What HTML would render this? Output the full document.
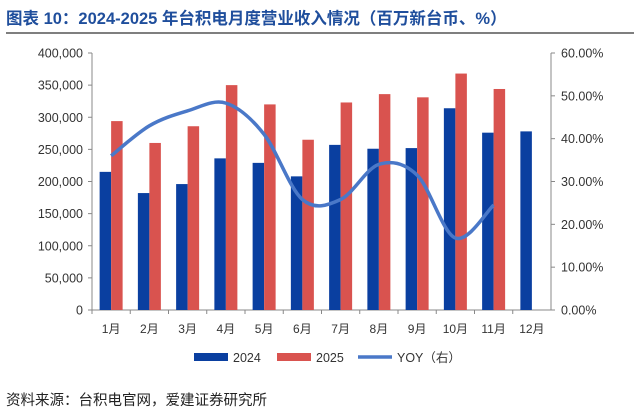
<!DOCTYPE html>
<html><head><meta charset="utf-8"><style>
body{margin:0;width:634px;height:416px;background:#fff;overflow:hidden;font-family:"Liberation Sans","Noto Sans CJK SC",sans-serif}
</style></head><body>
<svg width="634" height="416" style="position:absolute;left:0;top:0">
<text x="6" y="24" font-size="16.5" font-weight="bold" fill="#1f4e9c" font-family="Liberation Sans, Noto Sans CJK SC, sans-serif">图表 10：2024-2025 年台积电月度营业收入情况（百万新台币、%）</text>
<line x1="6" y1="33" x2="634" y2="33" stroke="#333" stroke-width="1.2"/>
<g id="g"></g>
<text x="6" y="405" font-size="14.5" fill="#222" font-family="Liberation Sans, Noto Sans CJK SC, sans-serif">资料来源：台积电官网，爱建证券研究所</text>
</svg>
<script>
const categories=["1月","2月","3月","4月","5月","6月","7月","8月","9月","10月","11月","12月"];
const rev2024=[215000,182000,196000,236000,229000,208000,257000,251000,252000,314000,276000,278000];
const rev2025=[294000,260000,286000,350000,320000,265000,323000,336000,331000,368000,344000,null];
const yoy=[36,43,46.5,48.3,41,25.8,25.8,34,31.5,16.8,24.5,null];
const leftTicks=[0,50000,100000,150000,200000,250000,300000,350000,400000];
const rightTicks=[0,10,20,30,40,50,60];
const NS="http://www.w3.org/2000/svg",g=document.getElementById('g');
const L=92,R=551,B=310,T=53;
const y=v=>B-(v/400000)*(B-T), y2=v=>B-(v/60)*(B-T);
const bw=(R-L)/categories.length, xc=i=>L+bw*(i+0.5);
function el(t,a,txt){const e=document.createElementNS(NS,t);for(const k in a)e.setAttribute(k,a[k]);if(txt!=null)e.textContent=txt;g.appendChild(e);return e;}
let e;
e=el('line',{x1:L,y1:T,x2:L,y2:B,stroke:'#888'});


e=el('line',{x1:R,y1:T,x2:R,y2:B,stroke:'#888'});


e=el('line',{x1:L,y1:B,x2:R,y2:B,stroke:'#888'});


leftTicks.forEach(v=>{
 el('line',{x1:L-4,y1:y(v),x2:L,y2:y(v),stroke:'#888'});
 e=el('text',{x:83,y:y(v)+4.5,'font-size':12.5,'text-anchor':'end',fill:'#333'},v.toLocaleString('en-US'));
 
 
});
rightTicks.forEach(v=>{
 el('line',{x1:R,y1:y2(v),x2:R+4,y2:y2(v),stroke:'#888'});
 e=el('text',{x:561,y:y2(v)+4.5,'font-size':12.5,fill:'#333'},v.toFixed(2)+'%');
 
 
});
categories.forEach((c,i)=>{
 el('line',{x1:L+bw*i,y1:B,x2:L+bw*i,y2:B+4,stroke:'#888'});
 e=el('text',{x:xc(i),y:333,'font-size':12,'text-anchor':'middle',fill:'#333'},c);
 
 
 if(rev2024[i]!=null){e=el('rect',{x:xc(i)-11.5,y:y(rev2024[i]),width:11.5,height:B-y(rev2024[i]),fill:'#0a3fa0'});
 
 }
 if(rev2025[i]!=null){e=el('rect',{x:xc(i),y:y(rev2025[i]),width:11.5,height:B-y(rev2025[i]),fill:'#d9534f'});
 
 }
});
const pts=yoy.map((v,i)=>v==null?null:[xc(i),y2(v)]).filter(p=>p);
let d='M'+pts[0];
for(let i=0;i<pts.length-1;i++){const p0=pts[Math.max(i-1,0)],p1=pts[i],p2=pts[i+1],p3=pts[Math.min(i+2,pts.length-1)];
 d+=` C${p1[0]+(p2[0]-p0[0])/6},${p1[1]+(p2[1]-p0[1])/6} ${p2[0]-(p3[0]-p1[0])/6},${p2[1]-(p3[1]-p1[1])/6} ${p2[0]},${p2[1]}`;}
e=el('path',{d:d,fill:'none',stroke:'#4a78c8','stroke-width':3.5});


e=el('rect',{x:194,y:353,width:34,height:8,fill:'#0a3fa0'});


e=el('text',{x:233,y:362,'font-size':12.5,fill:'#333'},'2024');


e=el('rect',{x:277,y:353,width:34,height:8,fill:'#d9534f'});


e=el('text',{x:316,y:362,'font-size':12.5,fill:'#333'},'2025');


e=el('line',{x1:358,y1:357,x2:392,y2:357,stroke:'#4a78c8','stroke-width':3.5});


e=el('text',{x:397,y:362,'font-size':12.5,fill:'#333'},'YOY（右）');


</script>
</body></html>
